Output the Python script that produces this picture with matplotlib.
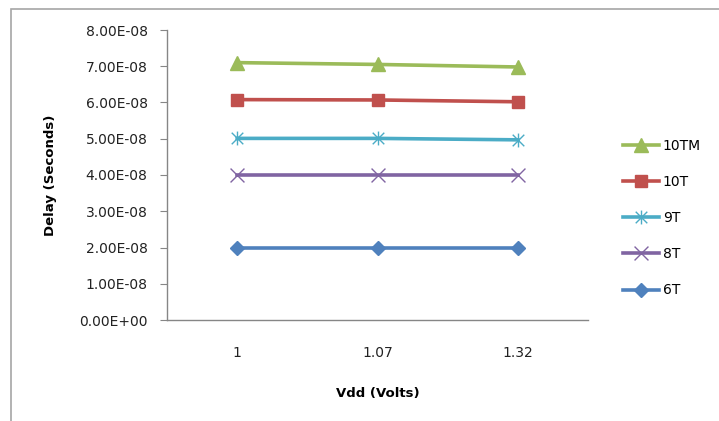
import matplotlib
matplotlib.use("Agg")
import matplotlib.pyplot as plt
from matplotlib.path import Path
from matplotlib.patches import Rectangle
from matplotlib.ticker import FuncFormatter

categories = ["1", "1.07", "1.32"]
series_names = ["10TM", "10T", "9T", "8T", "6T"]
v_10tm = [7.10e-8, 7.05e-8, 6.98e-8]
v_10t = [6.08e-8, 6.07e-8, 6.02e-8]
v_9t = [5.01e-8, 5.01e-8, 4.97e-8]
v_8t = [4.00e-8, 4.00e-8, 4.00e-8]
v_6t = [1.98e-8, 1.98e-8, 1.98e-8]
yticks = [i * 1e-8 for i in range(9)]

colors = ["#9BBB59", "#C0504D", "#4BACC6", "#8064A2", "#4F81BD"]

star = Path([(-1, -1), (1, 1), (-1, 1), (1, -1), (0, -1.2), (0, 1.2)],
            [Path.MOVETO, Path.LINETO, Path.MOVETO, Path.LINETO, Path.MOVETO, Path.LINETO])
xmark = Path([(-1, -1), (1, 1), (-1, 1), (1, -1)],
             [Path.MOVETO, Path.LINETO, Path.MOVETO, Path.LINETO])

styles = [
    dict(marker="^", ms=9.5),
    dict(marker="s", ms=9),
    dict(marker=star, ms=10, mfc="none", mew=1.0),
    dict(marker=xmark, ms=10, mfc="none", mew=1.0),
    dict(marker="D", ms=7.5),
]
data = [v_10tm, v_10t, v_9t, v_8t, v_6t]

fig = plt.figure(figsize=(7.19, 4.21), dpi=100)
fig.patches.append(Rectangle((11 / 719, -0.1), 1.2, 1 - 9 / 421 + 0.1, transform=fig.transFigure,
                             fill=False, edgecolor="#a6a6a6", lw=1.2))
ax = fig.add_axes([167 / 719, 1 - 320 / 421, (588 - 167) / 719, (320 - 30) / 421])

x = list(range(len(categories)))
for name, vals, c, st in zip(series_names, data, colors, styles):
    ax.plot(x, vals, color=c, lw=2.6, label=name, mec=c, mfc=st.pop("mfc", c), **st)

ax.set_xlim(-0.5, 2.5)
ax.set_ylim(0, 8e-8)
ax.set_yticks(yticks)
ax.yaxis.set_major_formatter(FuncFormatter(lambda v, p: "%.2E" % v))
ax.set_xticks(x)
ax.set_xticklabels(categories)
for s in ["top", "right"]:
    ax.spines[s].set_visible(False)
for s in ["left", "bottom"]:
    ax.spines[s].set_color("#868686")
    ax.spines[s].set_linewidth(1.0)
ax.tick_params(axis="y", length=5, color="#868686", labelsize=10, pad=9, labelcolor="#222222")
ax.tick_params(axis="x", length=0, labelsize=10, pad=19, labelcolor="#222222")
ax.set_xlabel("Vdd (Volts)", fontweight="bold", fontsize=9.5, labelpad=19)
ax.set_ylabel("Delay (Seconds)", fontweight="bold", fontsize=9.5, labelpad=16)

leg = ax.legend(loc="center left", bbox_to_anchor=(610 / 719, 1 - 218 / 421), bbox_transform=fig.transFigure,
                frameon=False, numpoints=1, handlelength=2.6, fontsize=10, labelspacing=1.6,
                handletextpad=0.3)

fig.savefig("out.png", dpi=100)
